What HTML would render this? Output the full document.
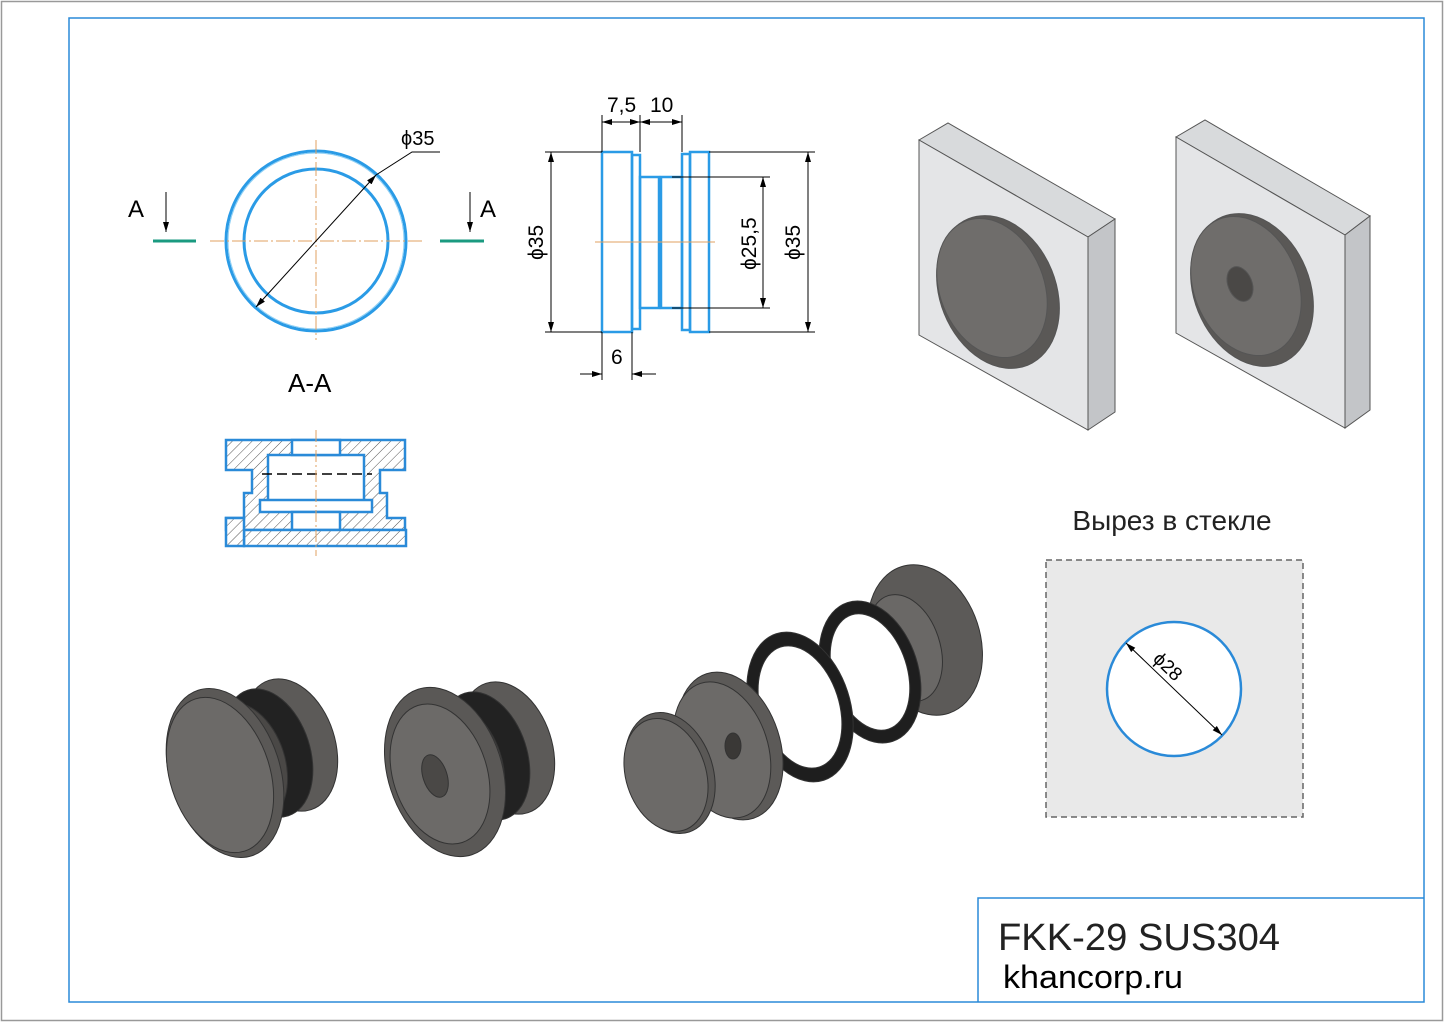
<!DOCTYPE html>
<html><head><meta charset="utf-8"><style>
html,body{margin:0;padding:0;background:#fff}
svg{display:block}
text{font-family:"Liberation Sans Narrow","Liberation Sans",sans-serif}
</style></head><body>
<svg width="1444" height="1022" viewBox="0 0 1444 1022" xmlns="http://www.w3.org/2000/svg">
<defs>
<pattern id="h" width="7" height="7" patternUnits="userSpaceOnUse" patternTransform="rotate(45)"><rect width="7" height="7" fill="#fff"/><line x1="0" y1="0" x2="0" y2="7" stroke="#555" stroke-width="1"/></pattern>
<marker id="ar" markerWidth="10" markerHeight="6" refX="10" refY="3" orient="auto-start-reverse"><path d="M0,0 L10,3 L0,6 z" fill="#000"/></marker>
</defs>
<rect x="1.5" y="1.5" width="1441" height="1019" fill="#fff" stroke="#999" stroke-width="1.5"/>
<rect x="69" y="18" width="1355" height="984" fill="none" stroke="#2a8ad8" stroke-width="1.5"/>
<!-- title block -->
<polyline points="978,1002 978,898 1424,898" fill="none" stroke="#2a8ad8" stroke-width="1.5"/>
<text x="998" y="950" font-size="38" fill="#222" textLength="282" lengthAdjust="spacingAndGlyphs">FKK-29 SUS304</text>
<text x="1003" y="988" font-size="32" fill="#000" font-family="Liberation Sans,sans-serif" textLength="180" lengthAdjust="spacingAndGlyphs">khancorp.ru</text>

<!-- circle view -->
<g fill="none">
<circle cx="316" cy="241" r="90" stroke="#2a9be6" stroke-width="3"/>
<circle cx="316" cy="241" r="88" stroke="#8fd0f5" stroke-width="1"/>
<circle cx="316" cy="241" r="72" stroke="#2a9be6" stroke-width="3"/>
<line x1="210" y1="241" x2="424" y2="241" stroke="#e0a060" stroke-dasharray="14,3,2,3"/>
<line x1="316" y1="140" x2="316" y2="340" stroke="#e0a060" stroke-dasharray="14,3,2,3"/>
<line x1="256" y1="307" x2="376" y2="175" stroke="#000" marker-start="url(#ar)" marker-end="url(#ar)"/>
<polyline points="376,175 412,152 440,152" stroke="#000"/>
<line x1="153" y1="241" x2="196" y2="241" stroke="#1a9a80" stroke-width="3"/>
<line x1="440" y1="241" x2="484" y2="241" stroke="#1a9a80" stroke-width="3"/>
<line x1="166" y1="192" x2="166" y2="232" stroke="#000" marker-end="url(#ar)"/>
<line x1="470" y1="192" x2="470" y2="232" stroke="#000" marker-end="url(#ar)"/>
</g>
<text x="401" y="145" font-size="20">ϕ35</text>
<text x="128" y="217" font-size="24">A</text>
<text x="480" y="217" font-size="24">A</text>
<text x="288" y="392" font-size="26">A-A</text>

<!-- section -->
<g stroke="#2a8ad8" stroke-width="2.5">
<path d="M226,440 H405 V470 H380 V493 H387 V518 H405 V530 H226 V518 H244 V493 H252 V470 H226 Z" fill="url(#h)"/>
<rect x="268" y="455" width="96" height="46" fill="#fff"/>
<rect x="292" y="440" width="48" height="15" fill="#fff"/>
<rect x="260" y="500" width="112" height="12" fill="#fff"/>
<rect x="292" y="512" width="48" height="18" fill="#fff"/>
<rect x="244" y="530" width="162" height="16" fill="url(#h)"/>
<rect x="226" y="518" width="18" height="28" fill="url(#h)"/>
</g>
<line x1="262" y1="474" x2="372" y2="474" stroke="#000" stroke-width="1.5" stroke-dasharray="10,5"/>
<line x1="316" y1="430" x2="316" y2="556" stroke="#e0a060" stroke-dasharray="12,3,2,3"/>

<!-- side view -->
<g fill="none" stroke="#2a9be6" stroke-width="2.5">
<rect x="602" y="152" width="30" height="180"/>
<rect x="632" y="155" width="8" height="174"/>
<rect x="640" y="177" width="19" height="131"/>
<rect x="661" y="177" width="21" height="131"/>
<rect x="682" y="154" width="8" height="176"/>
<rect x="690" y="152" width="19" height="180"/>
</g>
<line x1="595" y1="242" x2="715" y2="242" stroke="#e0a060"/>
<g stroke="#000" stroke-width="1" fill="none">
<line x1="545" y1="152" x2="602" y2="152"/><line x1="545" y1="332" x2="602" y2="332"/>
<line x1="551" y1="152" x2="551" y2="332" marker-start="url(#ar)" marker-end="url(#ar)"/>
<line x1="709" y1="152" x2="815" y2="152"/><line x1="709" y1="332" x2="815" y2="332"/>
<line x1="808" y1="152" x2="808" y2="332" marker-start="url(#ar)" marker-end="url(#ar)"/>
<line x1="672" y1="177" x2="770" y2="177"/><line x1="672" y1="308" x2="770" y2="308"/>
<line x1="763" y1="177" x2="763" y2="308" marker-start="url(#ar)" marker-end="url(#ar)"/>
<line x1="602" y1="115" x2="602" y2="152"/><line x1="640" y1="115" x2="640" y2="152"/><line x1="682" y1="115" x2="682" y2="152"/>
<line x1="602" y1="122" x2="640" y2="122" marker-start="url(#ar)" marker-end="url(#ar)"/>
<line x1="640" y1="122" x2="682" y2="122" marker-start="url(#ar)" marker-end="url(#ar)"/>
<line x1="602" y1="332" x2="602" y2="380"/><line x1="632" y1="332" x2="632" y2="380"/>
<line x1="580" y1="374" x2="602" y2="374" marker-end="url(#ar)"/>
<line x1="656" y1="374" x2="632" y2="374" marker-end="url(#ar)"/>
</g>
<text x="607" y="112" font-size="21">7,5</text>
<text x="650" y="112" font-size="21">10</text>
<text x="611" y="364" font-size="21">6</text>
<text transform="translate(543,260) rotate(-90)" font-size="21">ϕ35</text>
<text transform="translate(756,270) rotate(-90)" font-size="21">ϕ25,5</text>
<text transform="translate(800,260) rotate(-90)" font-size="21">ϕ35</text>

<!-- 3D plates -->
<g stroke="#555" stroke-width="1">
<polygon points="919,140 948,123 1115,219 1088,237" fill="#d8dadc"/>
<polygon points="1088,237 1115,219 1115,412 1088,430" fill="#c3c5c8"/>
<polygon points="919,140 1088,237 1088,430 919,335" fill="#e4e5e7"/>
<ellipse cx="998" cy="292" rx="58" ry="79" transform="rotate(-22 998 292)" fill="#5a5856"/>
<ellipse cx="992" cy="288" rx="52" ry="72" transform="rotate(-22 992 288)" fill="#6f6d6b"/>
<polygon points="1176,137 1205,120 1370,216 1345,235" fill="#d8dadc"/>
<polygon points="1345,235 1370,216 1370,410 1345,428" fill="#c3c5c8"/>
<polygon points="1176,137 1345,235 1345,428 1176,333" fill="#e4e5e7"/>
<ellipse cx="1252" cy="290" rx="58" ry="79" transform="rotate(-22 1252 290)" fill="#5a5856"/>
<ellipse cx="1246" cy="286" rx="52" ry="72" transform="rotate(-22 1246 286)" fill="#6f6d6b"/>
<ellipse cx="1240" cy="284" rx="12" ry="18" transform="rotate(-22 1240 284)" fill="#4a4846"/>
</g>

<!-- assembled 1 -->
<g stroke="#333" stroke-width="1">
<ellipse cx="290" cy="745" rx="45" ry="68" transform="rotate(-18 290 745)" fill="#5c5a58"/>
<ellipse cx="268" cy="753" rx="42" ry="66" transform="rotate(-18 268 753)" fill="#222"/>
<ellipse cx="245" cy="763" rx="40" ry="62" transform="rotate(-18 245 763)" fill="#4a4846"/>
<ellipse cx="225" cy="773" rx="55" ry="87" transform="rotate(-18 225 773)" fill="#5a5856"/>
<ellipse cx="220" cy="775" rx="50" ry="80" transform="rotate(-18 220 775)" fill="#6c6a68"/>
</g>
<!-- assembled 2 -->
<g stroke="#333" stroke-width="1">
<ellipse cx="507" cy="748" rx="45" ry="68" transform="rotate(-18 507 748)" fill="#5c5a58"/>
<ellipse cx="485" cy="756" rx="42" ry="66" transform="rotate(-18 485 756)" fill="#222"/>
<ellipse cx="462" cy="765" rx="40" ry="62" transform="rotate(-18 462 765)" fill="#4a4846"/>
<ellipse cx="445" cy="772" rx="57" ry="87" transform="rotate(-18 445 772)" fill="#5a5856"/>
<ellipse cx="440" cy="774" rx="47" ry="72" transform="rotate(-18 440 774)" fill="#6c6a68"/>
<ellipse cx="435" cy="776" rx="12" ry="22" transform="rotate(-18 435 776)" fill="#4a4846"/>
</g>
<!-- exploded -->
<g stroke="#333" stroke-width="1">
<ellipse cx="925" cy="640" rx="55" ry="77" transform="rotate(-18 925 640)" fill="#5c5a58"/>
<ellipse cx="905" cy="648" rx="35" ry="55" transform="rotate(-18 905 648)" fill="#6a6866"/>
<ellipse cx="870" cy="672" rx="48" ry="73" transform="rotate(-18 870 672)" fill="#1e1e1e"/>
<ellipse cx="870" cy="672" rx="37" ry="60" transform="rotate(-18 870 672)" fill="#fff"/>
<ellipse cx="800" cy="707" rx="50" ry="77" transform="rotate(-18 800 707)" fill="#1e1e1e"/>
<ellipse cx="800" cy="707" rx="39" ry="63" transform="rotate(-18 800 707)" fill="#fff"/>
<ellipse cx="730" cy="746" rx="50" ry="76" transform="rotate(-18 730 746)" fill="#5c5a58"/>
<ellipse cx="722" cy="750" rx="46" ry="70" transform="rotate(-18 722 750)" fill="#6c6a68"/>
<ellipse cx="733" cy="746" rx="8" ry="13" fill="#3a3836"/>
<ellipse cx="670" cy="773" rx="43" ry="62" transform="rotate(-18 670 773)" fill="#5a5856"/>
<ellipse cx="666" cy="775" rx="40" ry="58" transform="rotate(-18 666 775)" fill="#6c6a68"/>
</g>

<!-- cutout -->
<rect x="1046" y="560" width="257" height="257" fill="#e9e9e9" stroke="#666" stroke-width="1.5" stroke-dasharray="6,4"/>
<circle cx="1174" cy="689" r="67" fill="#fff" stroke="#2a8ad8" stroke-width="2.5"/>
<line x1="1126" y1="643" x2="1222" y2="735" stroke="#000" marker-start="url(#ar)" marker-end="url(#ar)"/>
<text transform="translate(1152,660) rotate(44)" font-size="19">ϕ28</text>
<text x="1172" y="530" font-size="28" text-anchor="middle" fill="#222">Вырез в стекле</text>
</svg>
</body></html>
